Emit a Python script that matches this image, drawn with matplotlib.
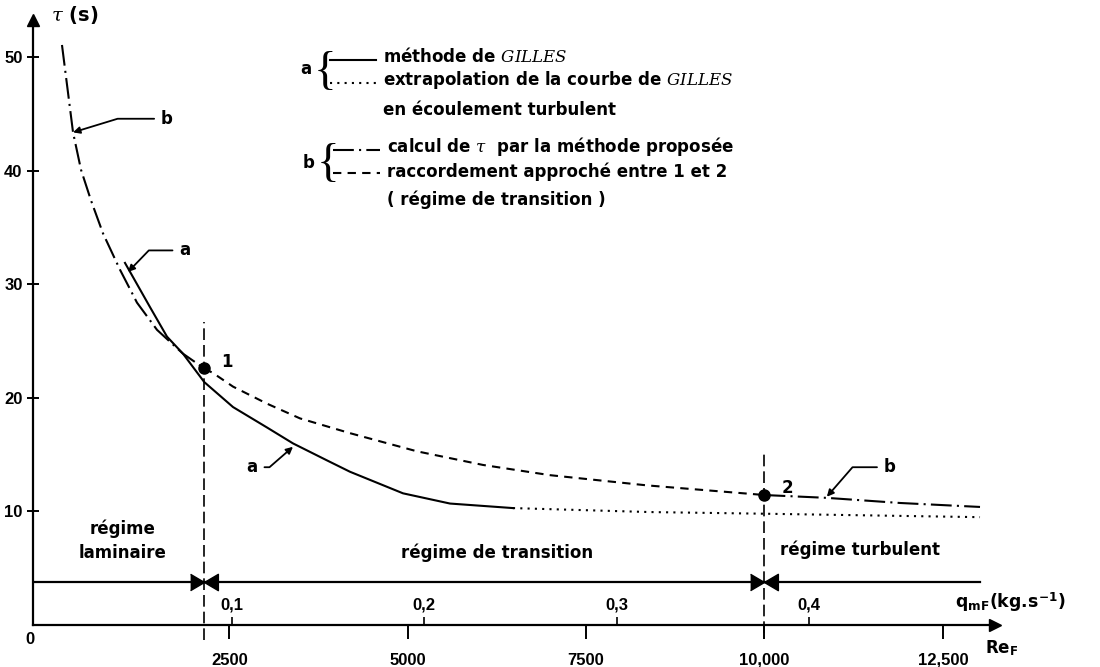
import matplotlib

matplotlib.use("Agg")
import matplotlib.pyplot as plt
from matplotlib.lines import Line2D
from matplotlib.ticker import FuncFormatter

# --- data (Re_F, tau in s) ---
# b : proposed method, laminar branch (dash-dot) up to point 1
B_LAM_RE = [156, 311, 423, 563, 731, 969, 1207, 1488, 1852, 2150]
B_LAM_TAU = [51.1, 43.4, 40.1, 37.4, 34.5, 31.3, 28.4, 26.0, 23.9, 22.6]

# b : approximate link between 1 and 2 (dashed)
B_TRANS_RE = [2150, 2272, 2553, 3029, 3492, 4192, 5131, 6056, 6995, 8354, 10000]
B_TRANS_TAU = [22.6, 22.2, 21.0, 19.5, 18.2, 16.9, 15.3, 14.1, 13.2, 12.3, 11.45]

# b : proposed method, turbulent branch (dash-dot) from point 2
B_TURB_RE = [10000, 10876, 11899, 13020]
B_TURB_TAU = [11.45, 11.2, 10.75, 10.4]

# a : GILLES method (solid)
A_SOLID_RE = [1039, 1390, 1628, 1852, 2150, 2553, 3029, 3393, 3870, 4192, 4935, 5593, 6476]
A_SOLID_TAU = [31.9, 28.0, 25.4, 23.9, 21.4, 19.2, 17.4, 16.0, 14.5, 13.5, 11.6, 10.7, 10.3]

# a : extrapolation of GILLES curve (dotted)
A_DOT_RE = [6476, 8396, 10036, 13020]
A_DOT_TAU = [10.3, 9.95, 9.8, 9.5]

TRANSITION_RE = [2150, 10000]
POINT_TAU = [22.6, 11.45]
POINT_LABELS = ["1", "2"]
BAND_TAU = 3.8
BAND_END_RE = 13020

Y_TICKS = [10, 20, 30, 40, 50]
RE_TICKS = [2500, 5000, 7500, 10000, 12500]
RE_TICK_LABELS = ["2500", "5000", "7500", "10,000", "12,500"]
Q_TICKS = [0.1, 0.2, 0.3, 0.4]
RE_PER_Q = 26950.0
RE_OFFSET = -156.0

REGIMES = ["régime\nlaminaire", "régime de transition", "régime turbulent"]
REGIME_RE = [1011, 6251, 11337]
REGIME_TAU = [7.4, 6.4, 6.6]

plt.rcParams["font.family"] = ["DejaVu Sans"]
plt.rcParams["font.weight"] = "bold"
plt.rcParams["mathtext.fontset"] = "custom"
plt.rcParams["mathtext.it"] = "DejaVu Serif:style=italic:weight=normal"
plt.rcParams["mathtext.rm"] = "DejaVu Sans:bold"
plt.rcParams["mathtext.bf"] = "DejaVu Sans:bold"

W, H = 1100, 667
TICK_FONT = "Liberation Sans"


def fx(px):
    return px / W


def fy(py):
    return 1 - py / H


def re_to_q(re):
    return (re - RE_OFFSET) / RE_PER_Q


def q_to_re(q):
    return q * RE_PER_Q + RE_OFFSET


fig = plt.figure(figsize=(11, 6.67), dpi=100)
ax = fig.add_axes([fx(33), fy(625), fx(995) - fx(33), fy(20) - fy(625)])
ax.set_xlim(-250, 13230)
ax.set_ylim(0, 53.3)

for s in ("top", "right"):
    ax.spines[s].set_visible(False)
for s in ("left", "bottom"):
    ax.spines[s].set_linewidth(1.6)
ax.plot(1, 0, ">k", ms=9, transform=ax.transAxes, clip_on=False)
ax.plot(0, 1, "^k", ms=9, transform=ax.transAxes, clip_on=False)

# curves
lw = 1.5
dashdot = (10, 2.5, 1, 2.5)
ax.plot(B_LAM_RE, B_LAM_TAU, color="k", lw=lw, dashes=dashdot)
ax.plot(B_TRANS_RE, B_TRANS_TAU, color="k", lw=lw, dashes=(4, 3))
ax.plot(B_TURB_RE, B_TURB_TAU, color="k", lw=lw, dashes=dashdot)
ax.plot(A_SOLID_RE, A_SOLID_TAU, color="k", lw=lw)
ax.plot(A_DOT_RE, A_DOT_TAU, color="k", lw=lw, dashes=(1, 2.5))

# transition markers
ax.plot([TRANSITION_RE[0]] * 2, [-1.3, 26.7], color="k", lw=1.2, dashes=(7, 3), clip_on=False)
ax.plot([TRANSITION_RE[1]] * 2, [-0.7, 15.2], color="k", lw=1.2, dashes=(7, 3), clip_on=False)
ax.plot(TRANSITION_RE, POINT_TAU, "o", color="k", ms=8)
for re, tau, lab in zip(TRANSITION_RE, POINT_TAU, POINT_LABELS):
    ax.annotate(lab, (re, tau), xytext=(12, 5), textcoords="offset points",
                fontsize=12, va="center")

# regime band
ax.plot([ax.get_xlim()[0], BAND_END_RE], [BAND_TAU, BAND_TAU], color="k", lw=1.6)
bowtie = [(-1.7, 1), (0, 0), (1.7, 1), (1.7, -1), (0, 0), (-1.7, -1)]
ax.plot(TRANSITION_RE, [BAND_TAU] * 2, ls="none", marker=bowtie, ms=20, color="k")
for lab, re, tau in zip(REGIMES, REGIME_RE, REGIME_TAU):
    ax.text(re, tau, lab, ha="center", va="center", fontsize=12, linespacing=1.45)

# ticks
ax.set_yticks(Y_TICKS)
ax.tick_params(axis="y", direction="inout", length=9, width=1.4, labelsize=12, pad=3)
ax.set_xticks(RE_TICKS, RE_TICK_LABELS)
ax.tick_params(axis="x", direction="out", length=10, width=1.4, labelsize=12, pad=10)
ax.text(-292, -1.3, "0", ha="center", va="center", fontsize=12, family=TICK_FONT)

secax = ax.secondary_xaxis(0.0, functions=(re_to_q, q_to_re))
secax.set_alignment("top")
secax.set_xticks(Q_TICKS)
secax.xaxis.set_major_formatter(FuncFormatter(lambda q, _: f"{q:.1f}".replace(".", ",")))
secax.tick_params(axis="x", direction="out", length=6, width=1.2, labelsize=12, pad=3)
for s in secax.spines.values():
    s.set_visible(False)

for lab in ax.get_xticklabels() + ax.get_yticklabels() + secax.get_xticklabels():
    lab.set_fontfamily(TICK_FONT)

ax.text(0, 53.7, r"$\tau$ (s)", ha="left", va="center", fontsize=14)
ax.text(12668, 1.5, r"q$_{\mathregular{mF}}$(kg.s$^{\mathregular{-1}}$)", ha="left",
        va="baseline", fontsize=12.5, clip_on=False)
ax.text(13090, -2.0, r"Re$_{\mathregular{F}}$", ha="left", va="center", fontsize=12)

# callouts
arrow = dict(arrowstyle="-|>", color="k", lw=1.3, mutation_scale=10, shrinkA=3, shrinkB=0)
callouts = [
    ("b", (1628, 44.6), (311, 43.4), 17),
    ("a", (1880, 33.0), (1081, 31.1), 46),
    ("a", (2818, 13.9), (3393, 15.7), 41),
    ("b", (11757, 13.9), (10874, 11.3), 49),
]
for lab, txt, tip, ang in callouts:
    ax.annotate(lab, xy=tip, xytext=txt, ha="center", va="center", fontsize=12,
                arrowprops=dict(arrow, connectionstyle=f"angle,angleA=0,angleB={ang},rad=0"))

# key at top
fs = 12
brace = dict(fontsize=34, fontweight="normal", ha="center", va="center", family="Liberation Serif")
fig.text(fx(306), fy(69), "a", fontsize=fs, ha="center", va="center")
fig.text(fx(325), fy(73), "{", **brace)
fig.add_artist(Line2D([fx(330), fx(376)], [fy(60)] * 2, color="k", lw=lw))
fig.add_artist(Line2D([fx(330), fx(376)], [fy(83)] * 2, color="k", lw=lw, dashes=(1, 2.5)))
fig.text(fx(383), fy(57), r"méthode de $\mathit{GILLES}$", fontsize=fs, va="center")
fig.text(fx(383), fy(80), r"extrapolation de la courbe de $\mathit{GILLES}$", fontsize=fs, va="center")
fig.text(fx(383), fy(110), "en écoulement turbulent", fontsize=fs, va="center")

fig.text(fx(309), fy(163), "b", fontsize=fs, ha="center", va="center")
fig.text(fx(328), fy(165), "{", **brace)
fig.add_artist(Line2D([fx(333), fx(380)], [fy(150)] * 2, color="k", lw=lw, dashes=dashdot))
fig.add_artist(Line2D([fx(333), fx(380)], [fy(173)] * 2, color="k", lw=lw, dashes=(4, 3)))
fig.text(fx(387), fy(147), r"calcul de $\tau$  par la méthode proposée", fontsize=fs, va="center")
fig.text(fx(387), fy(172), "raccordement approché entre 1 et 2", fontsize=fs, va="center")
fig.text(fx(387), fy(200), "( régime de transition )", fontsize=fs, va="center")

fig.savefig("out.png", dpi=100)
